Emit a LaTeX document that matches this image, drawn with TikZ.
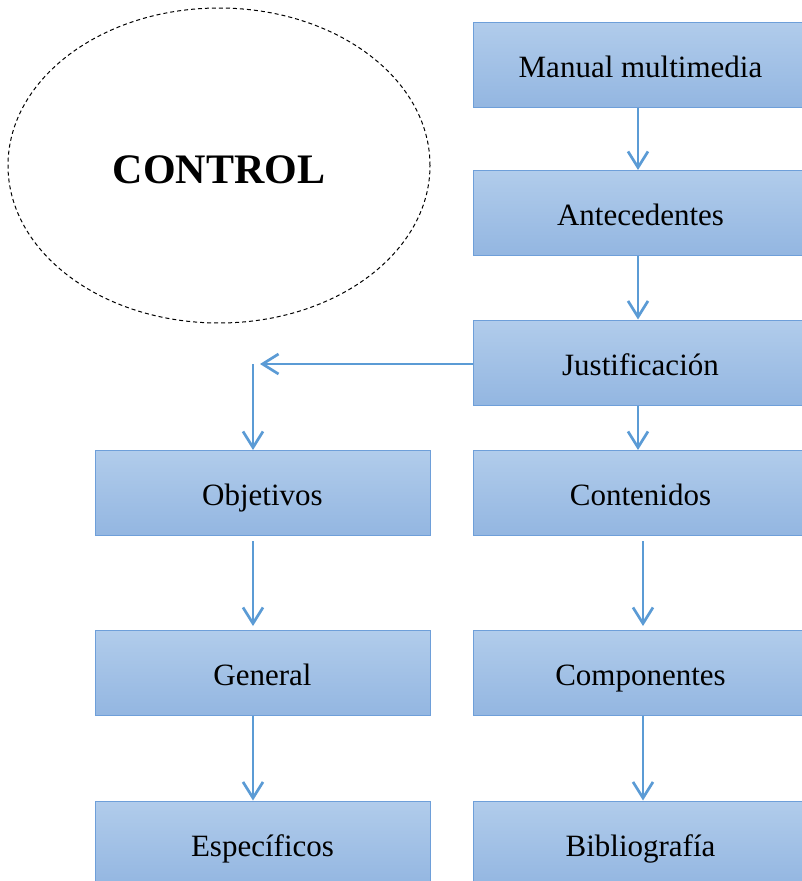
\documentclass[tikz,border=0pt]{standalone}
\usepackage{fontspec}
\setmainfont{Liberation Serif}
\usetikzlibrary{shapes.geometric,arrows.meta}
\definecolor{boxtop}{HTML}{B1CCEB}
\definecolor{boxbot}{HTML}{93B6E1}
\definecolor{boxline}{HTML}{6E9FD9}
\definecolor{arrcol}{HTML}{5B9BD5}
\tikzset{
  box/.style={rectangle, draw=boxline, line width=1pt, top color=boxtop, bottom color=boxbot,
    minimum width=335pt, minimum height=85pt, inner sep=0pt,
    text height=28pt, text depth=3pt,
    font=\fontsize{31}{37}\selectfont},
  rbox/.style={box, minimum width=355pt, execute at begin node={\hspace*{-20pt}}},
  arr/.style={draw=arrcol, line width=2.7pt, -{Straight Barb[length=16pt,width=20pt,line width=2.7pt]}},
  ctrl/.style={ellipse, draw=black, dashed, dash pattern=on 4pt off 3pt, line width=1pt,
    minimum width=422pt, minimum height=315pt, inner sep=0pt,
    text height=36pt, text depth=1pt,
    font=\fontsize{42}{50}\selectfont\bfseries}
}
\begin{document}
\begin{tikzpicture}[x=1pt,y=-1pt]
\useasboundingbox (0,0) rectangle (802,881);
\node[ctrl] (ctl) at (219,165.5) {CONTROL};
\node[rbox] (man) at (650.5,64.5) {Manual multimedia};
\node[rbox] (ant) at (650.5,213) {Antecedentes};
\node[rbox] (jus) at (650.5,362.5) {Justificación};
\node[rbox] (con) at (650.5,493) {Contenidos};
\node[rbox] (com) at (650.5,673) {Componentes};
\node[rbox] (bib) at (650.5,843.5) {Bibliografía};
\node[box] (obj) at (262.5,493) {Objetivos};
\node[box] (gen) at (262.5,673) {General};
\node[box] (esp) at (262.5,843.5) {Específicos};
\coordinate (tipL) at (260,364);
\coordinate (startL) at (253,364);
\draw[arr] ([xshift=-12.5pt]man.south) -- ([xshift=-12.5pt]ant.north);
\draw[arr] ([xshift=-12.5pt]ant.south) -- ([xshift=-12.5pt]jus.north);
\draw[arr] ([xshift=-12.5pt]jus.south) -- ([xshift=-12.5pt]con.north);
\draw[arr] ([xshift=-7.5pt,yshift=-5pt]con.south) -- ([xshift=-7.5pt,yshift=4pt]com.north);
\draw[arr] ([xshift=-7.5pt]com.south) -- ([xshift=-7.5pt]bib.north);
\draw[arr] (jus.west |- tipL) -- (tipL);
\draw[arr] (startL) -- (startL |- obj.north);
\draw[arr] ([xshift=-9.5pt,yshift=-5pt]obj.south) -- ([xshift=-9.5pt,yshift=4pt]gen.north);
\draw[arr] ([xshift=-9.5pt]gen.south) -- ([xshift=-9.5pt]esp.north);
\end{tikzpicture}
\end{document}
